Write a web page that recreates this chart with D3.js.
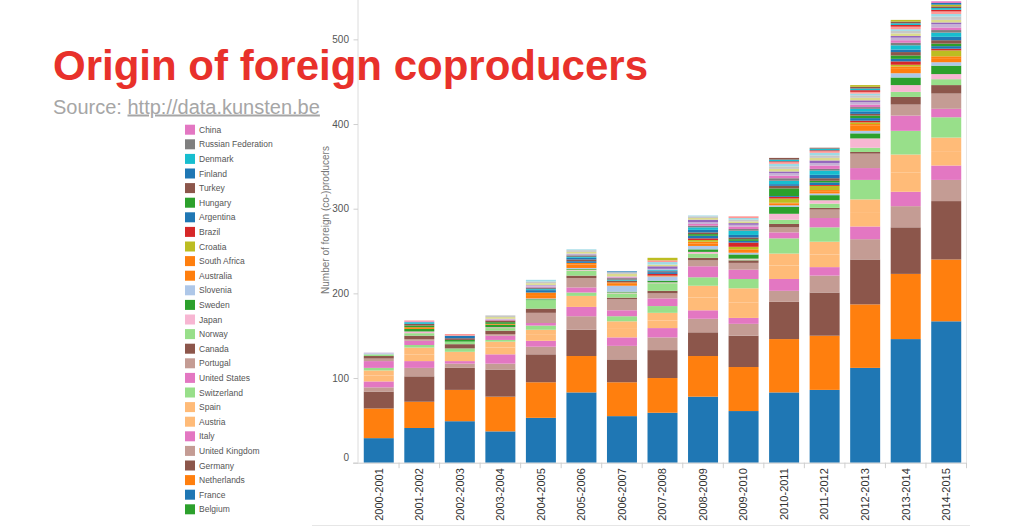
<!DOCTYPE html>
<html><head><meta charset="utf-8">
<script src="https://cdn.jsdelivr.net/npm/d3@7"></script>
<style>
html,body{margin:0;padding:0;background:#fff;}
svg{display:block;font-family:"Liberation Sans",Arial,Helvetica,sans-serif;}
</style>
</head><body>
<svg id="chart" width="1024" height="527"></svg>
<script>
// ---------- DATA ----------
const seasons = ["2000-2001","2001-2002","2002-2003","2003-2004","2004-2005","2005-2006","2006-2007","2007-2008","2008-2009","2009-2010","2010-2011","2011-2012","2012-2013","2013-2014","2014-2015"];
const yTicks = [0,100,200,300,400,500];

const belgium      = [0,0,0,0,0,0,0,0,0,0,0,0,0,0,0];
const france       = [29,41,49,37,53,83,55,59,78,61,83,86,112,146,167];
const netherlands  = [35,31,37,41,42,43,40,41,48,52,63,64,75,77,73];
const germany      = [20,30,26,32,33,31,27,33,28,37,44,51,53,55,69];
const unitedKingdom= [5,10,5,7,9,16,16,15,16,14,13,20,24,25,25];
const italy        = [7,8,3,11,7,11,10,11,10,7,14,10,15,17,17];
const austria      = [7,8,6,8,7,7,10,9,15,18,16,15,16,23,17];
const spain        = [6,8,5,7,6,6,9,9,14,17,14,15,16,21,16];
const switzerland  = [3,3,4,2,5,4,6,8,10,11,18,17,23,28,24];
const unitedStates = [8,5,0,5,3,6,7,9,13,11,7,11,14,18,10];
const portugal     = [3,2,0,2,12,11,13,6,7,8,6,10,17,13,18];
const canada       = [3,4,5,4,5,3,2,3,3,3,4,2,2,9,10];
const norway       = [2,3,3,3,10,6,5,9,5,1,5,5,5,6,7];
const japan        = [0,2,0,1,0,1,1,1,2,1,7,4,11,8,6];
const sweden       = [0,3,2,3,1,1,1,2,3,5,8,6,6,9,10];
const slovenia     = [1,0,0,0,1,1,7,5,4,2,2,2,3,5,4];
const australia    = [0,2,0,1,4,4,3,1,3,2,2,2,6,6,4];
const southAfrica  = [0,0,0,0,3,2,1,0,2,2,1,2,2,2,3];
const croatia      = [0,0,0,0,0,0,0,0,2,3,5,5,2,2,7];
const brazil       = [0,0,0,0,0,0,0,2,2,5,2,1,2,4,2];
const argentina    = [0,0,0,0,2,2,0,2,3,2,1,3,3,3,3];
const hungary      = [0,2,0,2,0,0,0,0,2,2,9,2,3,4,3];
const turkey       = [0,2,2,2,0,2,2,1,2,2,3,3,2,4,4];
const finland      = [0,0,3,0,1,2,0,1,3,3,2,4,3,3,4];
const denmark      = [0,2,0,0,1,1,1,1,3,5,4,5,3,5,5];
const russia       = [0,0,0,0,2,2,2,0,2,2,3,2,2,3,3];
const china        = [0,1,0,1,1,0,1,0,2,3,3,4,3,3,3];
// countries whose legend entries are scrolled out of view
const poland       = [1,0,0,1,2,2,1,1,2,2,3,3,3,3,4];
const greece       = [0,0,0,0,0,0,0,3,3,2,2,3,2,2,2];
const ireland      = [0,0,0,2,2,2,3,2,2,2,3,3,3,3,3];
const luxembourg   = [0,0,0,2,2,2,2,0,2,2,3,3,3,3,4];
const israel       = [0,0,0,0,2,1,0,3,1,2,3,3,2,2,3];
const czechRep     = [0,1,2,0,0,0,0,2,0,2,2,2,2,3,3];
const serbia       = [0,0,0,0,0,0,0,0,0,0,1,1,2,2,2];
const lithuania    = [0,0,0,0,0,0,0,0,0,0,2,2,2,2,2];
const romania      = [0,0,0,0,0,0,0,0,0,0,2,1,2,2,2];
const southKorea   = [0,0,0,0,0,0,0,3,0,0,0,0,2,2,2];
const mexico       = [0,0,0,0,0,0,1,0,0,0,0,0,0,0,2];
const lebanon      = [0,0,0,0,0,0,0,0,0,0,0,0,0,0,2];

// stacking order (bottom to top)
const series = [
  ["Belgium", belgium], ["France", france], ["Netherlands", netherlands], ["Germany", germany],
  ["United Kingdom", unitedKingdom], ["Italy", italy], ["Austria", austria], ["Spain", spain],
  ["Switzerland", switzerland], ["United States", unitedStates], ["Portugal", portugal],
  ["Canada", canada], ["Norway", norway], ["Japan", japan], ["Sweden", sweden],
  ["Slovenia", slovenia], ["Australia", australia], ["South Africa", southAfrica],
  ["Croatia", croatia], ["Brazil", brazil], ["Argentina", argentina], ["Hungary", hungary],
  ["Turkey", turkey], ["Finland", finland], ["Denmark", denmark],
  ["Russian Federation", russia], ["China", china],
  ["Poland", poland], ["Greece", greece], ["Ireland", ireland], ["Luxembourg", luxembourg],
  ["Israel", israel], ["Czech Republic", czechRep], ["Serbia", serbia], ["Lithuania", lithuania],
  ["Romania", romania], ["South Korea", southKorea], ["Mexico", mexico], ["Lebanon", lebanon]
];
const legendNames = ["China","Russian Federation","Denmark","Finland","Turkey","Hungary","Argentina","Brazil","Croatia","South Africa","Australia","Slovenia","Sweden","Japan","Norway","Canada","Portugal","United States","Switzerland","Spain","Austria","Italy","United Kingdom","Germany","Netherlands","France","Belgium"];

// ---------- STYLE ----------
const colorOf = {
  "Belgium":"#2ca02c","France":"#1f77b4","Netherlands":"#ff7f0e","Germany":"#8c564b",
  "United Kingdom":"#c49c94","Italy":"#e377c2","Austria":"#ffbb78","Spain":"#ffbb78",
  "Switzerland":"#98df8a","United States":"#e377c2","Portugal":"#c49c94","Canada":"#8c564b",
  "Norway":"#98df8a","Japan":"#f7b6d2","Sweden":"#2ca02c","Slovenia":"#aec7e8",
  "Australia":"#ff7f0e","South Africa":"#ff7f0e","Croatia":"#bcbd22","Brazil":"#d62728",
  "Argentina":"#1f77b4","Hungary":"#2ca02c","Turkey":"#8c564b","Finland":"#1f77b4",
  "Denmark":"#17becf","Russian Federation":"#7f7f7f","China":"#e377c2",
  "Poland":"#c5b0d5","Greece":"#9467bd","Ireland":"#dbdb8d","Luxembourg":"#c7c7c7",
  "Israel":"#9edae5","Czech Republic":"#ff9896","Serbia":"#d62728","Lithuania":"#17becf",
  "Romania":"#8c564b","South Korea":"#bcbd22","Mexico":"#1f77b4","Lebanon":"#e377c2"
};

const svg = d3.select("#chart");
const x0 = 358, x1 = 966.5, yBase = 462.7;

const keys = series.map(d => d[0]);
const rows = seasons.map((s, i) => {
  const o = {season: s};
  series.forEach(([k, arr]) => o[k] = arr[i]);
  return o;
});
const stacked = d3.stack().keys(keys)(rows);

const x = d3.scaleBand().domain(seasons).range([x0 + 0.5, x1]).paddingInner(0.26).paddingOuter(0.13);
const y = d3.scaleLinear().domain([0, 546.5]).range([yBase, 0]);

// frame lines
svg.append("line").attr("x1", 312).attr("x2", 970).attr("y1", 525.5).attr("y2", 525.5).attr("stroke", "#e6e6e6");
svg.append("line").attr("x1", x1).attr("x2", x1).attr("y1", 0).attr("y2", yBase).attr("stroke", "#e6e6e6");

// bars
const gBars = svg.append("g");
gBars.selectAll("g").data(stacked).join("g")
  .attr("fill", d => colorOf[d.key])
  .selectAll("rect").data(d => d.filter(p => p[1] > p[0])).join("rect")
  .attr("x", p => x(p.data.season))
  .attr("width", x.bandwidth())
  .attr("y", p => y(p[1]))
  .attr("height", p => y(p[0]) - y(p[1]));

// y axis
const gy = svg.append("g").attr("transform", `translate(${x0},0)`)
  .call(d3.axisLeft(y).tickValues(yTicks).tickSize(4.5).tickPadding(4.5).tickFormat(d3.format("d")));
gy.select(".domain").attr("stroke", "#dcdcdc").attr("d", `M0,0V${yBase}`);
gy.selectAll(".tick line").attr("stroke", "#cfcfcf");
gy.selectAll(".tick text").attr("fill", "#555").style("font-size", "10px")
  .attr("font-family", null)
  .attr("dy", d => d === 0 ? "-0.25em" : "0.32em");

// x axis
const gx = svg.append("g");
gx.append("line").attr("x1", 353).attr("x2", x1).attr("y1", yBase + 0.5).attr("y2", yBase + 0.5).attr("stroke", "#cfcfcf");
const step = x.step();
const bounds = seasons.slice(1).map(s => x(s) - step * x.paddingInner() / 2).concat([x1]);
gx.selectAll("line.tk").data(bounds).join("line").attr("class", "tk")
  .attr("x1", d => d).attr("x2", d => d).attr("y1", yBase).attr("y2", yBase + 5.5)
  .attr("stroke", "#cfcfcf");
gx.selectAll("text").data(seasons).join("text")
  .attr("transform", d => `translate(${x(d) + x.bandwidth() / 2},${yBase + 5.5}) rotate(-90)`)
  .attr("text-anchor", "end").attr("dy", "0.35em")
  .attr("fill", "#333").style("font-size", "11px")
  .text(d => d);

// y title
svg.append("text")
  .attr("transform", "translate(328.5,220) rotate(-90)")
  .attr("text-anchor", "middle")
  .attr("fill", "#777").style("font-size", "10px")
  .text("Number of foreign (co-)producers");

// legend
const lg = svg.append("g");
const lgRow = lg.selectAll("g").data(legendNames).join("g")
  .attr("transform", (d, i) => `translate(185,${129.7 + i * 14.6})`);
lgRow.append("rect").attr("x", 0).attr("y", -5).attr("width", 10).attr("height", 10)
  .attr("fill", d => colorOf[d]);
lgRow.append("text").attr("x", 14).attr("y", 3).attr("fill", "#555").style("font-size", "8.5px")
  .text(d => d);

// title + source
svg.append("text").attr("x", 53).attr("y", 80)
  .attr("fill", "#e8312b").style("font-size", "42px").style("font-weight", "bold")
  .text("Origin of foreign coproducers");
const src = svg.append("text").attr("x", 53).attr("y", 113.5)
  .attr("fill", "#a6a6a6").style("font-size", "20px");
src.append("tspan").text("Source: ");
src.append("tspan").attr("text-decoration", "underline").text("http://data.kunsten.be");
</script>
</body></html>
